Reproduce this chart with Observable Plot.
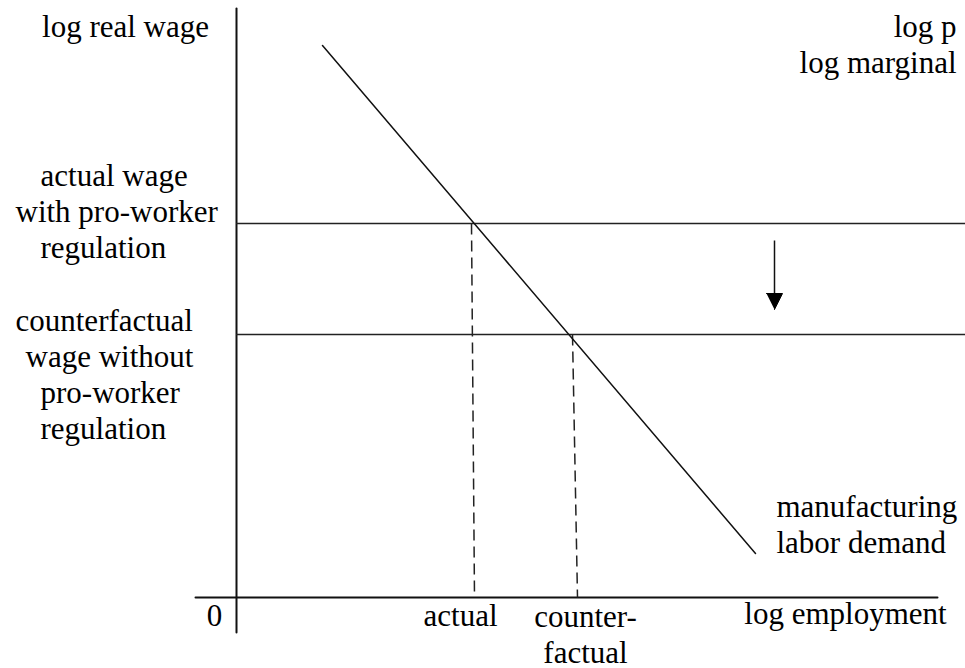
<!DOCTYPE html>
<html>
<head>
<meta charset="utf-8">
<script src="https://cdn.jsdelivr.net/npm/d3@7"></script>
<script src="https://cdn.jsdelivr.net/npm/@observablehq/plot@0.6"></script>
<style>
  html, body { margin: 0; padding: 0; background: #fff; }
  #chart svg { display: block; }
</style>
</head>
<body>
<div id="chart"></div>
<script>
// Coordinates: x = log employment units, y = log real wage units (origin at the axes' crossing)
const axisX = [{x: -41, y: 0}, {x: 701, y: 0}];
const axisY = [{x: 0, y: 589}, {x: 0, y: -35}];
const demandCurve = [{x: 86, y: 552}, {x: 519, y: 44}];
const wageLevels = [
  {name: "actual", y: 374},
  {name: "counterfactual", y: 263}
];
const wageSpan = [0, 729];
const employmentDrops = [
  {name: "actual", xTop: 235, yTop: 374, xBottom: 238},
  {name: "counterfactual", xTop: 336, yTop: 263, xBottom: 341}
];
const shiftArrow = {x: 538, yFrom: 357, yTo: 304};
const arrowHead = [{x: 530, y: 304}, {x: 546, y: 304}, {x: 538, y: 288}];

const annotations = [
  {text: "log real wage", x: -111, y: 561, anchor: "middle"},
  {text: "log p\nlog marginal", x: 720, y: 525, anchor: "end"},
  {text: "actual wage", x: -196, y: 412, anchor: "start"},
  {text: "with pro-worker", x: -221, y: 376, anchor: "start"},
  {text: "regulation", x: -196, y: 340, anchor: "start"},
  {text: "counterfactual", x: -221, y: 267, anchor: "start"},
  {text: "wage without", x: -211, y: 231, anchor: "start"},
  {text: "pro-worker", x: -196, y: 195, anchor: "start"},
  {text: "regulation", x: -196, y: 159, anchor: "start"},
  {text: "0", x: -22, y: -28, anchor: "middle"},
  {text: "actual", x: 224, y: -28, anchor: "middle"},
  {text: "counter-\nfactual", x: 349, y: -65, anchor: "middle"},
  {text: "log employment", x: 609, y: -26, anchor: "middle"},
  {text: "manufacturing\nlabor demand", x: 540, y: 45, anchor: "start"}
];

const font = "'Liberation Serif', 'Times New Roman', serif";
const fs = 31;
const lh = 36 / 31;

const chart = Plot.plot({
  width: 965,
  height: 668,
  margin: 0,
  x: {domain: [-236, 729], range: [0, 965], axis: null},
  y: {domain: [-71, 597], range: [668, 0], axis: null},
  style: {background: "#fff", fontFamily: font},
  marks: [
    Plot.line(axisX, {x: "x", y: "y", stroke: "#111", strokeWidth: 2}),
    Plot.line(axisY, {x: "x", y: "y", stroke: "#111", strokeWidth: 2}),
    Plot.ruleY(wageLevels, {y: "y", x1: wageSpan[0], x2: wageSpan[1], stroke: "#222", strokeWidth: 1.6}),
    Plot.link(employmentDrops, {x1: "xTop", y1: "yTop", x2: "xBottom", y2: 0, stroke: "#222", strokeWidth: 1.5, strokeDasharray: "11,6"}),
    Plot.line(demandCurve, {x: "x", y: "y", stroke: "#111", strokeWidth: 1.5}),
    Plot.link([shiftArrow], {x1: "x", y1: "yFrom", x2: "x", y2: "yTo", stroke: "#111", strokeWidth: 1.5}),
    Plot.line(arrowHead, {x: "x", y: "y", fill: "#000", stroke: "#000", strokeWidth: 1}),
    Plot.text(annotations.filter(d => d.anchor === "start"), {x: "x", y: "y", text: "text", textAnchor: "start", lineAnchor: "bottom", lineHeight: lh, fontSize: fs, fill: "#000"}),
    Plot.text(annotations.filter(d => d.anchor === "middle"), {x: "x", y: "y", text: "text", textAnchor: "middle", lineAnchor: "bottom", lineHeight: lh, fontSize: fs, fill: "#000"}),
    Plot.text(annotations.filter(d => d.anchor === "end"), {x: "x", y: "y", text: "text", textAnchor: "end", lineAnchor: "bottom", lineHeight: lh, fontSize: fs, fill: "#000"})
  ]
});
document.getElementById("chart").appendChild(chart);
</script>
</body>
</html>
